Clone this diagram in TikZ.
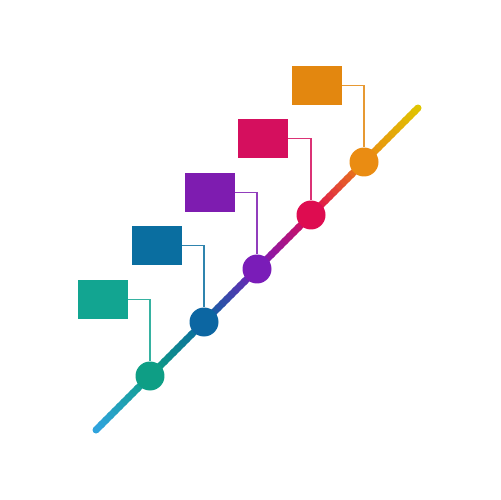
\documentclass[tikz,border=0pt]{standalone}
\usetikzlibrary{calc}

\definecolor{lineblue}{HTML}{2FA3DC}
\definecolor{lineteal}{HTML}{0E9E85}
\definecolor{lineblu}{HTML}{0C66A2}
\definecolor{linepurple}{HTML}{7A1CB8}
\definecolor{linered}{HTML}{DE0C50}
\definecolor{lineorange}{HTML}{EA8C12}
\definecolor{lineyellow}{HTML}{DFC600}

\definecolor{boxteal}{HTML}{12A591}
\definecolor{boxblue}{HTML}{0A6EA0}
\definecolor{boxpurple}{HTML}{7E1CB0}
\definecolor{boxred}{HTML}{D50F5E}
\definecolor{boxorange}{HTML}{E3870F}

\begin{document}
\begin{tikzpicture}[x = 0.02cm, y = -0.02cm,
		box/.style = {rectangle, minimum width = 1cm, minimum height = 0.78cm, inner sep = 0pt},
		dot/.style = {circle, minimum size = 0.58cm, inner sep = 0pt},
		link/.style = {line width = 1pt}]
	\useasboundingbox (0, 0) rectangle (500, 500);
	\coordinate (start) at (96, 430);
	\coordinate (stop) at (418, 108);
	
	% the timeline, colour blended piece by piece
	\fill[lineblue] (start) circle [radius = 0.07cm];
	\fill[lineyellow] (stop) circle [radius = 0.07cm];
	\foreach \ta/\tb/\ca/\cb in {0/0.168/lineblue/lineteal, 0.168/0.335/lineteal/lineblu, 0.335/0.5/lineblu/linepurple, 0.5/0.668/linepurple/linered, 0.668/0.832/linered/lineorange, 0.832/1/lineorange/lineyellow} {
		\foreach \i in {0, ..., 11} {
			\pgfmathtruncatemacro\p{100*\i/12}
			\pgfmathsetmacro\u{\ta + (\tb - \ta)*\i/12}
			\pgfmathsetmacro\v{min(\ta + (\tb - \ta)*(\i + 1.4)/12, 1)}
			\draw[line width = 0.14cm, \cb!\p!\ca] ($(start)!\u!(stop)$) -- ($(start)!\v!(stop)$);
		}
	}
	
	% boxes, dots and their links
	\foreach \n/\bx/\by/\dx/\dy/\bc/\dc in {1/103/299.5/150/376/boxteal/lineteal, 2/157/245.5/204/322/boxblue/lineblu, 3/210/192.5/257/269/boxpurple/linepurple, 4/263/138.5/311/215/boxred/linered, 5/317/85.5/364/162/boxorange/lineorange} {
		\node[box, fill = \bc] (box\n) at (\bx, \by) {};
		\node[dot, fill = \dc] (dot\n) at (\dx, \dy) {};
		\draw[link, \bc!85!white] (box\n.east) -| (dot\n.north);
	}
\end{tikzpicture}
\end{document}
